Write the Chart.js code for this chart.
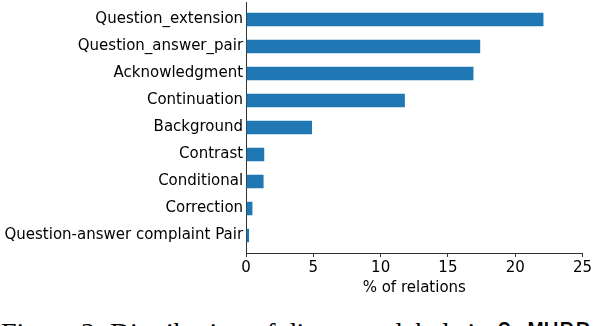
<!DOCTYPE html>
<html>
<head>
<meta charset="utf-8">
<script src="https://cdn.jsdelivr.net/npm/chart.js@4.4.1/dist/chart.umd.min.js"></script>
<style>
    html, body { margin: 0; padding: 0; background: #fff; overflow: hidden; }
    body { width: 594px; height: 326px; position: relative; }
    #grafica { position: absolute; left: 0; top: 0; }
    #caption {
        position: absolute; left: 1px; top: 319px;
        font-family: 'Liberation Serif', serif; font-size: 28px; line-height: 28px;
        white-space: nowrap; color: #000;
    }
    #caption span { font-family: 'DejaVu Sans Mono', monospace; font-size: 26px; }
</style>
</head>
<body>
<canvas id="grafica" width="594" height="300"></canvas>
<div id="caption">Figure 2: Distribution of discourse labels in <span>QuMUBP</span></div>
<script>
// Etiquetas de las relaciones (de arriba hacia abajo)
const categorias = [
    'Question_extension',
    'Question_answer_pair',
    'Acknowledgment',
    'Continuation',
    'Background',
    'Contrast',
    'Conditional',
    'Correction',
    'Question-answer complaint Pair',
];
// Porcentaje de relaciones
const porcentajes = [22.1, 17.4, 16.9, 11.8, 4.9, 1.35, 1.3, 0.47, 0.22];
// Marcas del eje x
const ticksX = [0, 5, 10, 15, 20, 25];

Chart.defaults.font.family = "'DejaVu Sans', sans-serif";
Chart.defaults.font.size = 15;
Chart.defaults.color = '#000';

const canvas = document.getElementById('grafica');

new Chart(canvas, {
    type: 'bar',
    data: {
        datasets: [
            {
                label: '% of relations',
                data: porcentajes.map((v, i) => ({ x: v, y: i })),
                backgroundColor: '#1f77b4',
                borderWidth: 0,
                barPercentage: 0.5,
                categoryPercentage: 1,
            },
        ],
    },
    options: {
        indexAxis: 'y',
        responsive: false,
        animation: false,
        layout: { padding: { top: 2, right: 8.5, bottom: 3, left: 1.5 } },
        plugins: {
            legend: { display: false },
            tooltip: { enabled: false },
        },
        scales: {
            x: {
                type: 'linear',
                min: ticksX[0],
                max: ticksX[ticksX.length - 1],
                afterBuildTicks: (scale) => {
                    scale.ticks = ticksX.map(v => ({ value: v }));
                },
                grid: { drawOnChartArea: false, drawTicks: true, tickLength: 4, color: '#333' },
                border: { display: true, color: '#333', width: 1 },
                ticks: { padding: 2 },
                title: { display: true, text: '% of relations', padding: { top: 0, bottom: 0 } },
            },
            y: {
                type: 'linear',
                reverse: true,
                offset: false,
                min: -0.65,
                max: categorias.length - 1 + 0.65,
                afterBuildTicks: (scale) => {
                    scale.ticks = categorias.map((c, i) => ({ value: i }));
                },
                afterFit: (scale) => {
                    scale.paddingTop = 0;
                    scale.paddingBottom = 0;
                },
                grid: { display: false, drawTicks: false, offset: false },
                border: { display: true, color: '#333', width: 1 },
                ticks: {
                    autoSkip: false,
                    padding: 3,
                    callback: (value) => categorias[value],
                },
            },
        },
    },
});
</script>
</body>
</html>
